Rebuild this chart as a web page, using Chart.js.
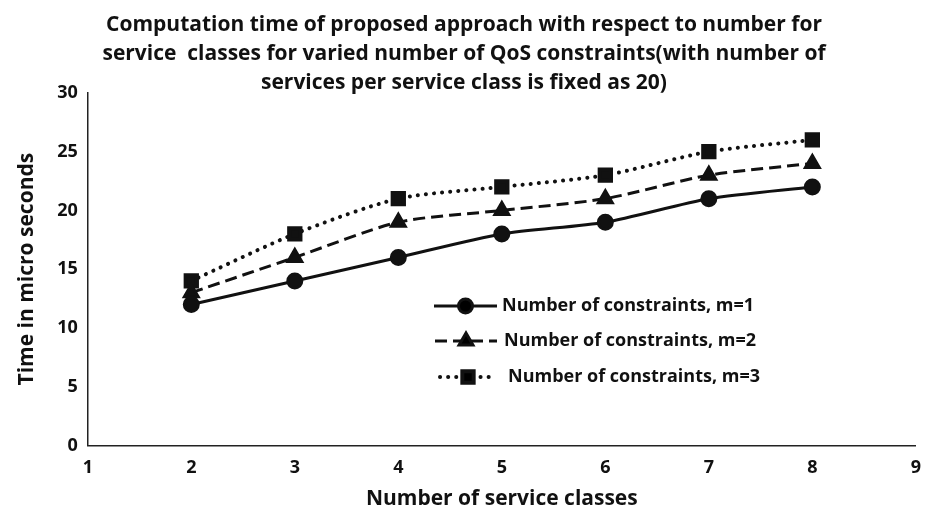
<!DOCTYPE html>
<html>
<head>
<meta charset="utf-8">
<script src="https://cdn.jsdelivr.net/npm/chart.js@4.4.1/dist/chart.umd.min.js"></script>
<style>
  html, body { margin: 0; padding: 0; background: #fff; }
  #wrap { width: 933px; height: 514px; }
</style>
</head>
<body>
<div id="wrap"><canvas id="c" width="933" height="514"></canvas></div>
<script>
// Number of service classes
const serviceClasses = [2, 3, 4, 5, 6, 7, 8];
// Computation time (micro seconds) per number of QoS constraints
const timeM1 = [12, 14, 16, 18, 19, 21, 22];
const timeM2 = [13, 16, 19, 20, 21, 23, 24];
const timeM3 = [14, 18, 21, 22, 23, 25, 26];
const seriesNames = [
  'Number of constraints, m=1',
  'Number of constraints, m=2',
  'Number of constraints, m=3'
];
const titleLines = [
  'Computation time of proposed approach with respect to number for',
  'service  classes for varied number of QoS constraints(with number of',
  'services per service class is fixed as 20)'
];

const FONT = "'Open Sans', 'Liberation Sans', sans-serif";

function pts(vals) { return serviceClasses.map((x, i) => ({ x: x, y: vals[i] })); }

// Legend drawn inside the plot area, with line sample and marker
const innerLegend = {
  id: 'innerLegend',
  afterDraw(chart) {
    const ctx = chart.ctx;
    const rows = [
      { y: 306, x0: 434, x1: 497, tx: 502 },
      { y: 341, x0: 435, x1: 497, tx: 504 },
      { y: 377, x0: 440, x1: 496, tx: 508 }
    ];
    chart.data.datasets.forEach((ds, i) => {
      const r = rows[i];
      ctx.save();
      ctx.strokeStyle = ds.borderColor;
      ctx.lineWidth = ds.borderWidth;
      ctx.lineCap = ds.borderCapStyle || 'butt';
      ctx.setLineDash(ds.borderDash || []);
      ctx.beginPath();
      ctx.moveTo(r.x0, r.y);
      ctx.lineTo(r.x1, r.y);
      ctx.stroke();
      ctx.setLineDash([]);
      Chart.helpers.drawPoint(ctx, {
        pointStyle: ds.pointStyle,
        radius: ds.pointRadius,
        rotation: 0,
        borderWidth: 1
      }, (r.x0 + r.x1) / 2, r.y);
      ctx.fillStyle = '#111';
      ctx.font = 'bold 18px ' + FONT;
      ctx.textBaseline = 'middle';
      ctx.textAlign = 'left';
      ctx.fillText(seriesNames[i], r.tx, r.y);
      ctx.restore();
    });
  }
};

function ds(label, vals, style, dash, cap, radius, width) {
  return {
    label: label,
    data: pts(vals),
    borderColor: '#111',
    backgroundColor: '#111',
    pointBackgroundColor: '#111',
    pointBorderColor: '#111',
    borderWidth: width,
    borderDash: dash,
    borderCapStyle: cap,
    pointStyle: style,
    pointRadius: radius,
    pointHoverRadius: radius,
    tension: 0.25,
    fill: false
  };
}

new Chart(document.getElementById('c'), {
  type: 'line',
  data: {
    datasets: [
      ds(seriesNames[0], timeM1, 'circle', [], 'butt', 7, 3),
      ds(seriesNames[1], timeM2, 'triangle', [12, 6], 'butt', 8, 3),
      ds(seriesNames[2], timeM3, 'rect', [0.1, 8], 'round', 8, 4)
    ]
  },
  options: {
    responsive: false,
    animation: false,
    devicePixelRatio: 1,
    layout: { padding: { left: 10, right: 15, top: 4, bottom: 4 } },
    plugins: {
      legend: { display: false },
      tooltip: { enabled: false },
      title: {
        display: true,
        text: titleLines,
        color: '#111',
        font: { family: FONT, size: 21, weight: 'bold', lineHeight: 1.38 },
        padding: { top: 7, bottom: -5 }
      }
    },
    scales: {
      x: {
        type: 'linear',
        min: 1,
        max: 9,
        ticks: { stepSize: 1, color: '#111', font: { family: FONT, size: 18, weight: 'bold' }, padding: 12 },
        grid: { display: false, drawTicks: false },
        border: { display: true, color: '#222', width: 1.5 },
        title: { display: true, text: 'Number of service classes', color: '#111',
                 font: { family: FONT, size: 21, weight: 'bold', lineHeight: 1.0 }, padding: { top: -2, bottom: 0 } }
      },
      y: {
        min: 0,
        max: 30,
        ticks: { stepSize: 5, color: '#111', font: { family: FONT, size: 18, weight: 'bold' }, padding: 10 },
        grid: { display: false, drawTicks: false },
        border: { display: true, color: '#222', width: 1.5 },
        title: { display: true, text: 'Time in micro seconds', color: '#111',
                 font: { family: FONT, size: 21, weight: 'bold' }, padding: { bottom: 8 } }
      }
    }
  },
  plugins: [innerLegend]
});
</script>
</body>
</html>
